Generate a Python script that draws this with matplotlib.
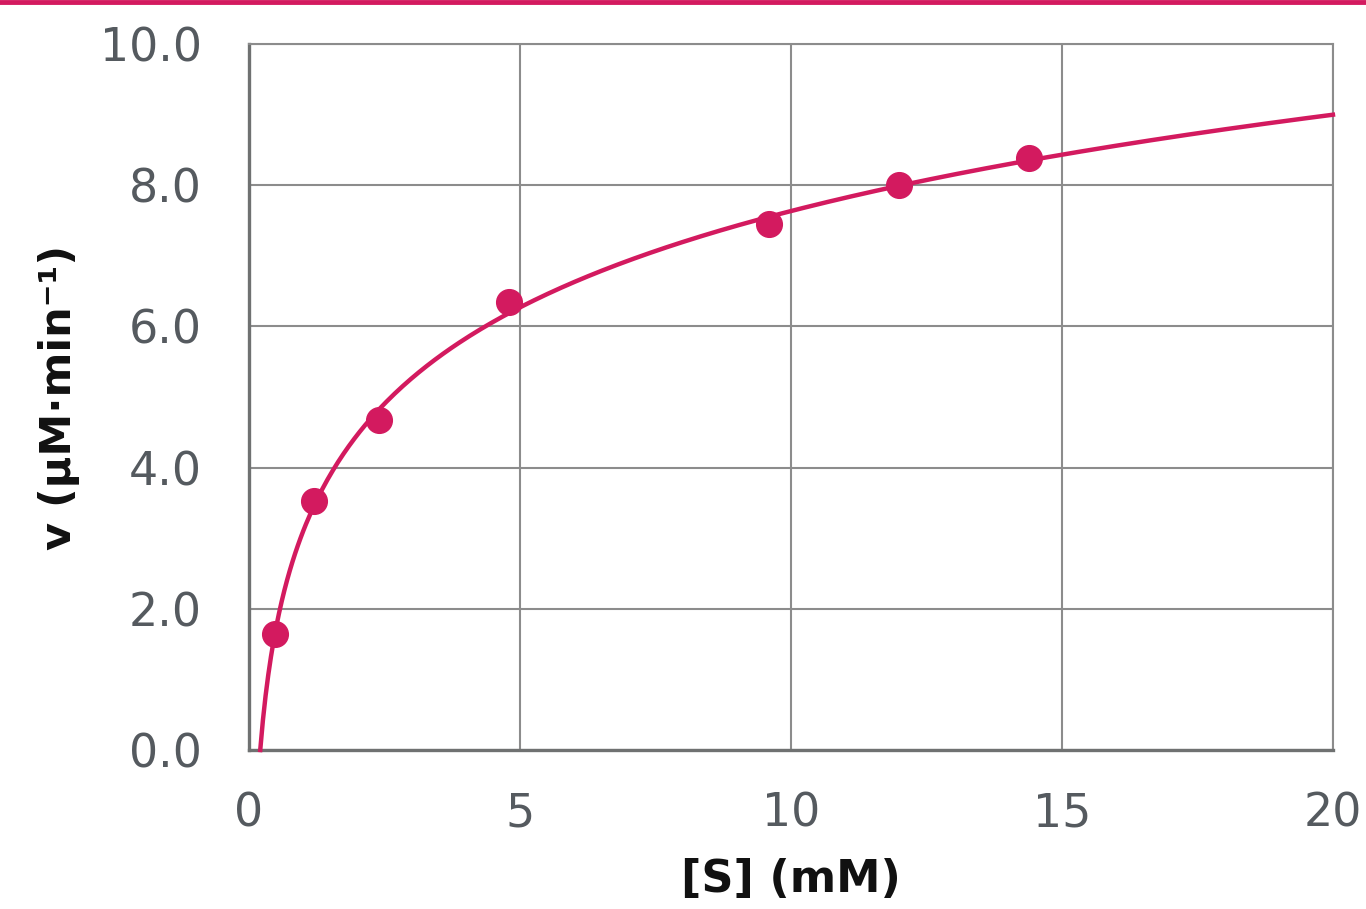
import matplotlib
matplotlib.use("Agg")

import matplotlib.pyplot as plt
import numpy as np
from matplotlib.lines import Line2D

# measured points: substrate conc (mM) vs rate (uM/min)
s_mM = [0.48, 1.2, 2.4, 4.8, 9.6, 12.0, 14.4]
v_rate = [1.65, 3.52, 4.68, 6.35, 7.45, 8.0, 8.38]

x_ticks = [0, 5, 10, 15, 20]
y_ticks = [0.0, 2.0, 4.0, 6.0, 8.0, 10.0]

RED = "#d31a5f"
GRID = "#8c8c8c"
TXT = "#555a5f"

# logarithmic trendline fitted to the points (like the spreadsheet trendline)
slope, icpt = np.polyfit(np.log(s_mM), v_rate, 1)
x0 = np.exp(-icpt / slope)
xs = np.linspace(x0, 20, 400)
ys = slope * np.log(xs) + icpt

fig = plt.figure(figsize=(13.66, 9.09), dpi=100)
ax = fig.add_axes([0.1823, 0.1749, 0.7935, 0.7767])

ax.plot(xs, ys, color=RED, linewidth=3.2, zorder=3, clip_on=False)
ax.plot(s_mM, v_rate, "o", color=RED, markersize=18.5, zorder=4, clip_on=False)

ax.set_xlim(0, 20)
ax.set_ylim(0, 10)
ax.set_xticks(x_ticks)
ax.set_yticks(y_ticks)
ax.set_yticklabels([f"{t:.1f}" for t in y_ticks])

ax.grid(True, color=GRID, linewidth=1.5)
ax.set_axisbelow(True)
ax.tick_params(length=0, labelsize=33, labelcolor=TXT)
ax.tick_params(axis="y", pad=34)
ax.tick_params(axis="x", pad=30)

for side in ["top", "right"]:
    ax.spines[side].set_color(GRID)
    ax.spines[side].set_linewidth(1.5)
for side in ["left", "bottom"]:
    ax.spines[side].set_color("#6f7171")
    ax.spines[side].set_linewidth(2.4)

ax.set_xlabel("[S] (mM)", fontsize=32, fontweight="bold", color="#111111", labelpad=15)
ax.set_ylabel("v (μM·min⁻¹)", fontsize=31, fontweight="bold", color="#111111", labelpad=14)

# thin accent bar across the top edge
fig.add_artist(Line2D([0, 1], [0.998, 0.998], transform=fig.transFigure,
                      color=RED, linewidth=3.5))

fig.savefig("out.png", dpi=100, facecolor="white")
plt.close(fig)
